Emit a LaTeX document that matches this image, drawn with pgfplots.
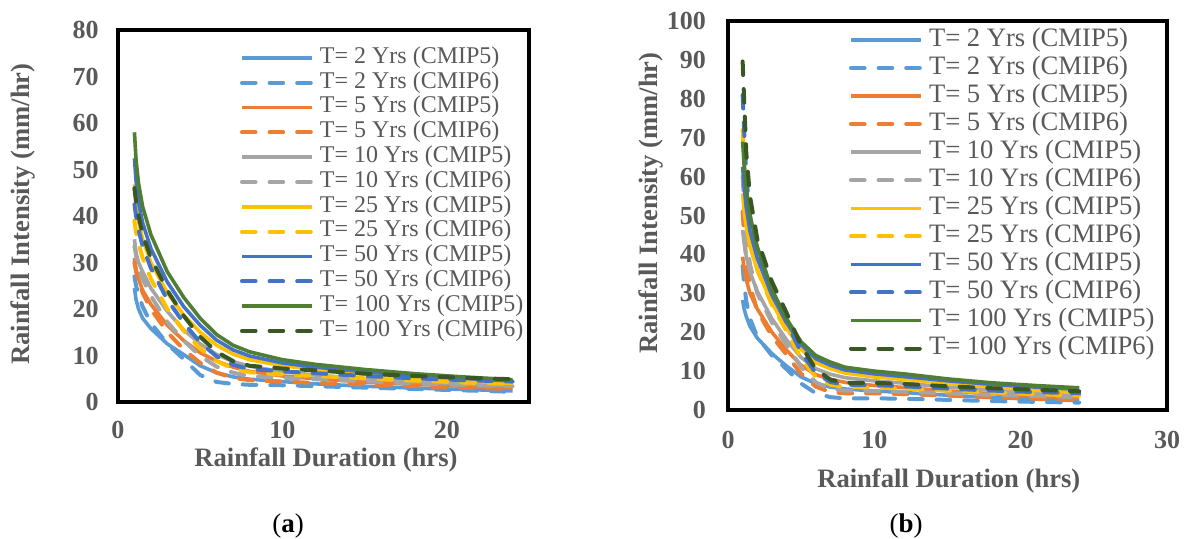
\documentclass[border=0pt]{standalone}
\usepackage{fontspec}
\setmainfont{Liberation Serif}
\usepackage{pgfplots}
\usepackage{pgfplotstable}
\pgfplotsset{compat=1.18}
\definecolor{lb}{HTML}{5B9BD5}
\definecolor{orr}{HTML}{ED7D31}
\definecolor{gry}{HTML}{A5A5A5}
\definecolor{gld}{HTML}{FFC000}
\definecolor{blu}{HTML}{4472C4}
\definecolor{gn}{HTML}{507E32}
\definecolor{dg}{HTML}{385723}
\definecolor{txt}{HTML}{595959}

% Panel (a)
\pgfplotstableread{
x    t2a  t2b  t5a  t5b  t10a t10b t25a t25b t50a t50b t100a t100b
1    24.5 27   31   30   35   33.5 46.8 39   52.4 42.5 58   46
1.1  22   25   28.5 28   32   31.5 42.5 36.5 47.5 40   52   43
1.25 20   23   26.5 26   30   29   39   34   43   37   47   40
1.5  18   20.5 24   23.5 28   26.5 35   31   38.5 33.5 42   36
2    15.8 17   21   20   24.5 22.8 30   26.5 33   28.8 36   31
3    12.5 12.5 16.5 15   19.5 17.2 23.5 20   25.8 22   28   24
4    10.2 9.2  13.2 11.3 15.5 13.2 18.7 15.3 20.5 17   22.5 18.5
5    7.8  5.8  10.6 8.4  12.5 9.9  15   11.5 16.5 12.8 18   14
6    6.3  4.3  8.8  6.3  10.2 7.6  12.2 8.8  13.3 9.8  14.5 10.8
7    5.4  3.9  7.5  5.2  8.7  6.3  10.3 7.2  11.2 8    12.2 8.8
8    4.9  3.7  6.6  4.7  7.7  5.6  9.1  6.4  9.9  7.1  10.8 7.8
10   4.4  3.6  5.6  4.4  6.5  5.2  7.8  5.9  8.4  6.6  9.1  7.2
12   3.9  3.4  5.0  4.1  5.8  4.9  7.0  5.6  7.5  6.2  8.1  6.8
15   3.4  3.1  4.3  3.8  5.0  4.5  6.0  5.1  6.5  5.6  7.0  6.1
18   3.0  2.8  3.8  3.4  4.4  4.0  5.2  4.6  5.7  5.1  6.1  5.6
21   2.7  2.5  3.4  3.1  3.9  3.7  4.6  4.2  5.1  4.7  5.4  5.2
24   2.4  2.2  3.0  2.8  3.5  3.4  4.0  3.9  4.5  4.4  4.8  4.9
}\tabA

% Panel (b)
\pgfplotstableread{
x    t2a  t2b  t5a  t5b  t10a t10b t25a t25b t50a t50b t100a t100b
1    28.3 37   39.4 51   46.3 60   55.7 72   62.5 81   69   89.6
1.1  26   32.5 36.5 45   43   53   51.5 64   57.5 72   63   80
1.25 24   28   33.5 38.5 39.5 45   47   54   52   60   57   66
1.5  21.5 23.5 30   32   35.5 37.5 42   45   46   50   50   55
2    18.5 18.8 26   25.5 30.5 30   36   36   39   40   42   44
3    14.5 14   20   19   23.5 22.5 27.5 27   29.5 30   31   33
4    11.3 10.5 15.4 14.2 18   16.8 21   20.3 22.5 22.5 23.5 25
5    8.5  6.8  11.5 9.3  13.5 11   15.6 13.3 16.8 14.8 17.5 16.5
6    6.8  4.3  9.1  6.0  10.6 7.1  12.2 8.5  13.2 9.5  14   10.5
7    5.9  3.3  7.9  4.6  9.2  5.4  10.6 6.5  11.5 7.2  12.3 7.8
8    5.4  3.0  7.1  4.3  8.3  5.0  9.5  5.9  10.3 6.5  11   7
10   4.9  3.0  6.3  4.3  7.5  4.9  8.5  5.8  9.3  6.4  10   7
12   4.5  2.9  5.8  4.1  6.9  4.7  7.9  5.5  8.6  6.1  9.3  6.7
15   3.8  2.6  4.9  3.7  5.9  4.3  6.8  5.0  7.5  5.5  8    6.1
18   3.2  2.3  4.2  3.3  5.1  3.9  5.9  4.5  6.6  5.0  7    5.6
21   2.8  2.1  3.6  2.9  4.5  3.6  5.1  4.1  5.9  4.6  6.3  5.2
24   2.4  1.9  3.0  2.6  4.0  3.3  4.4  3.7  5.3  4.3  5.7  4.8
}\tabB

\pgfplotsset{
  idf/.style={
    scale only axis,
    axis line style={line width=2pt, black},
    tick style={draw=none},
    major tick length=0pt,
    /pgf/number format/assume math mode=true,
    ticklabel style={font=\bfseries\fontsize{13}{15}\selectfont, text=txt},
    label style={font=\bfseries\fontsize{13.3}{16}\selectfont, text=txt},
    legend cell align=left,
    legend image code/.code={\draw[##1] (0pt,0pt) -- (35pt,0pt);},
  },
  sl/.style={solid, line width=1.8pt},
  ds/.style={line width=2pt, line cap=round, dash pattern=on 6.8pt off 7pt},
}

\begin{document}
\begin{tikzpicture}
\path[use as bounding box] (0pt,0pt) rectangle (593.5pt,269pt);

% ---------- Panel (a) ----------
\begin{axis}[idf,
  at={(59pt,68pt)}, anchor=south west,
  width=205.5pt, height=186pt,
  xmin=0, xmax=25, ymin=0, ymax=80,
  xtick={0,10,20}, ytick={0,10,...,80},
  yticklabel style={xshift=-6.2pt},
  xticklabel style={yshift=-6.3pt},
  xlabel={Rainfall Duration (hrs)},
  ylabel={Rainfall Intensity (mm/hr)},
  xlabel style={at={(axis description cs:0.506,-0.156)}, anchor=center},
  ylabel style={at={(axis description cs:-0.231,0.505)}, anchor=center},
  legend style={at={(axis description cs:0.2968,0.958)}, anchor=north west,
    draw=none, fill=none, inner sep=0pt, outer sep=0pt,
    column sep=3pt, row sep=0pt,
    font=\fontsize{12}{14}\selectfont, text=txt,
    nodes={inner sep=0pt, text height=8.85pt, text depth=3.55pt}},
]
\addplot[lb, sl]  table[x=x, y=t2a]   {\tabA};
\addplot[lb, ds]  table[x=x, y=t2b]   {\tabA};
\addplot[orr, sl] table[x=x, y=t5a]   {\tabA};
\addplot[orr, ds] table[x=x, y=t5b]   {\tabA};
\addplot[gry, sl] table[x=x, y=t10a]  {\tabA};
\addplot[gry, ds] table[x=x, y=t10b]  {\tabA};
\addplot[gld, sl] table[x=x, y=t25a]  {\tabA};
\addplot[gld, ds] table[x=x, y=t25b]  {\tabA};
\addplot[blu, sl] table[x=x, y=t50a]  {\tabA};
\addplot[blu, ds] table[x=x, y=t50b]  {\tabA};
\addplot[gn, sl]  table[x=x, y=t100a] {\tabA};
\addplot[dg, ds]  table[x=x, y=t100b] {\tabA};
\legend{T= 2 Yrs (CMIP5), T= 2 Yrs (CMIP6), T= 5 Yrs (CMIP5), T= 5 Yrs (CMIP6),
  T= 10 Yrs (CMIP5), T= 10 Yrs (CMIP6), T= 25 Yrs (CMIP5), T= 25 Yrs (CMIP6),
  T= 50 Yrs (CMIP5), T= 50 Yrs (CMIP6), T= 100 Yrs (CMIP5), T= 100 Yrs (CMIP6)}
\end{axis}

% ---------- Panel (b) ----------
\begin{axis}[idf,
  at={(364pt,64pt)}, anchor=south west,
  width=219.5pt, height=194.5pt,
  xmin=0, xmax=30, ymin=0, ymax=100,
  xtick={0,10,20,30}, ytick={0,10,...,100},
  yticklabel style={xshift=-7.5pt},
  xticklabel style={yshift=-7.3pt},
  xlabel={Rainfall Duration (hrs)},
  ylabel={Rainfall Intensity (mm/hr)},
  xlabel style={at={(axis description cs:0.503,-0.183)}, anchor=center},
  ylabel style={at={(axis description cs:-0.175,0.532)}, anchor=center},
  legend style={at={(axis description cs:0.2756,0.987)}, anchor=north west,
    draw=none, fill=none, inner sep=0pt, outer sep=0pt,
    column sep=3pt, row sep=0pt,
    font=\fontsize{13.3}{15}\selectfont, text=txt,
    nodes={inner sep=0pt, text height=10pt, text depth=4.02pt}},
]
\addplot[lb, sl]  table[x=x, y=t2a]   {\tabB};
\addplot[lb, ds]  table[x=x, y=t2b]   {\tabB};
\addplot[orr, sl] table[x=x, y=t5a]   {\tabB};
\addplot[orr, ds] table[x=x, y=t5b]   {\tabB};
\addplot[gry, sl] table[x=x, y=t10a]  {\tabB};
\addplot[gry, ds] table[x=x, y=t10b]  {\tabB};
\addplot[gld, sl] table[x=x, y=t25a]  {\tabB};
\addplot[gld, ds] table[x=x, y=t25b]  {\tabB};
\addplot[blu, sl] table[x=x, y=t50a]  {\tabB};
\addplot[blu, ds] table[x=x, y=t50b]  {\tabB};
\addplot[gn, sl]  table[x=x, y=t100a] {\tabB};
\addplot[dg, ds]  table[x=x, y=t100b] {\tabB};
\legend{T= 2 Yrs (CMIP5), T= 2 Yrs (CMIP6), T= 5 Yrs (CMIP5), T= 5 Yrs (CMIP6),
  T= 10 Yrs (CMIP5), T= 10 Yrs (CMIP6), T= 25 Yrs (CMIP5), T= 25 Yrs (CMIP6),
  T= 50 Yrs (CMIP5), T= 50 Yrs (CMIP6), T= 100 Yrs (CMIP5), T= 100 Yrs (CMIP6)}
\end{axis}

\node[font=\fontsize{13.5}{16}\selectfont] at (144pt,6pt) {(\textbf{a})};
\node[font=\fontsize{13.5}{16}\selectfont] at (453pt,6pt) {(\textbf{b})};
\end{tikzpicture}
\end{document}
